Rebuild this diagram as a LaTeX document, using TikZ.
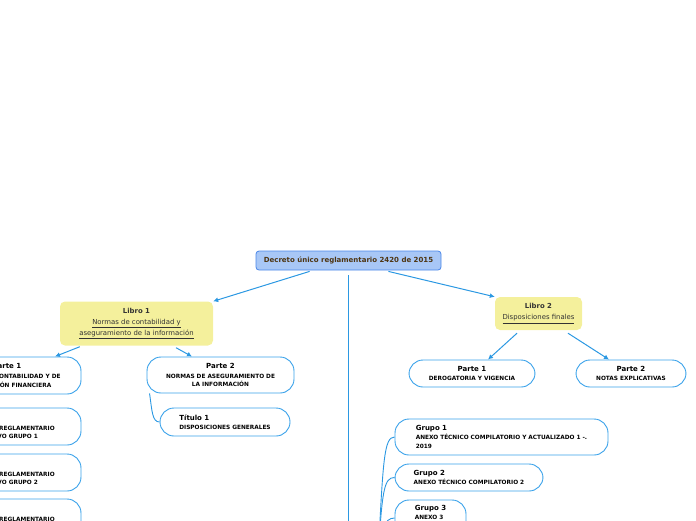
\documentclass[tikz,border=0pt]{standalone}
\usepackage{fontspec}
\setmainfont{DejaVu Sans}
\usetikzlibrary{arrows.meta}

\definecolor{linkblue}{HTML}{2B98E2}
\definecolor{pillblue}{HTML}{3AA2EA}
\definecolor{rootfill}{HTML}{A8C7F6}
\definecolor{rootedge}{HTML}{4A86E8}
\definecolor{rootbrown}{HTML}{4E3512}
\definecolor{libfill}{HTML}{F4F09C}
\definecolor{libtext}{HTML}{333333}

\newcommand\hd[1]{{\fontsize{7}{9}\selectfont #1}}

\tikzset{
  pill/.style={draw=pillblue, line width=0.9pt, fill=white, rounded corners=14pt,
    inner sep=0pt, align=center, text=black,
    font=\fontsize{5.8}{8.6}\selectfont\bfseries},
  libro/.style={fill=libfill, rounded corners=5pt, inner sep=0pt, align=center,
    text=libtext, font=\fontsize{6.9}{11}\selectfont},
  link/.style={draw=linkblue, line width=1pt, -{Latex[length=5pt,width=5pt]}},
  branch/.style={draw=linkblue, line width=0.9pt}
}

\begin{document}
\begin{tikzpicture}[x=1pt,y=-1pt]
  \useasboundingbox (0,0) rectangle (696,520);
  \clip (0,0) rectangle (696,520);

  % centre
  \node[draw=rootedge, line width=0.8pt, fill=rootfill, rounded corners=3pt,
    minimum width=185pt, minimum height=19pt, inner sep=0pt, text=rootbrown,
    font=\fontsize{7}{8}\selectfont\bfseries] (dec) at (348.5,260.5)
    {Decreto único reglamentario 2420 de 2015};

  % libros
  \node[libro, minimum width=153pt, minimum height=44pt] (lib1) at (136.5,323.5)
    {\textbf{Libro 1}\\\underline{Normas de contabilidad y}\\\underline{aseguramiento de la información}};
  \node[libro, minimum width=87pt, minimum height=33pt] (lib2) at (538.5,313.5)
    {\textbf{Libro 2}\\\underline{Disposiciones finales}};

  % libro 1
  \node[pill, minimum width=148pt, minimum height=37pt] (p1) at (7,375.5)
    {\hd{Parte 1}\\[1.2pt]NORMAS DE CONTABILIDAD Y DE\\INFORMACIÓN FINANCIERA};
  \node[pill, minimum width=147pt, minimum height=36pt] (p2) at (220.5,375)
    {\hd{Parte 2}\\[1.2pt]NORMAS DE ASEGURAMIENTO DE\\LA INFORMACIÓN};
  \node[pill, align=left, minimum width=130pt, minimum height=28pt] (tit) at (225,422)
    {\hd{Título 1}\\DISPOSICIONES GENERALES};
  \node[pill, align=left, minimum width=140pt, minimum height=37pt] (r1) at (11,426.5)
    {\hd{\strut}\\[1.2pt]RÉGIMEN REGLAMENTARIO\\NORMATIVO GRUPO 1};
  \node[pill, align=left, minimum width=140pt, minimum height=37pt] (r2) at (11,472.5)
    {\hd{\strut}\\[1.2pt]RÉGIMEN REGLAMENTARIO\\NORMATIVO GRUPO 2};
  \node[pill, align=left, minimum width=140pt, minimum height=37pt] (r3) at (11,517.5)
    {\hd{\strut}\\[1.2pt]RÉGIMEN REGLAMENTARIO\\NORMATIVO GRUPO 3};

  % libro 2
  \node[pill, minimum width=126pt, minimum height=27pt] (q1) at (472,373.5)
    {\hd{Parte 1}\\DEROGATORIA Y VIGENCIA};
  \node[pill, minimum width=110pt, minimum height=27pt] (q2) at (631,373.5)
    {\hd{Parte 2}\\NOTAS EXPLICATIVAS};

  % grupos
  \node[pill, align=left, minimum width=213pt, minimum height=36pt] (g1) at (501.5,437)
    {\hd{Grupo 1}\\ANEXO TÉCNICO COMPILATORIO Y ACTUALIZADO 1 -.\\2019};
  \node[pill, align=left, minimum width=148pt, minimum height=27pt] (g2) at (469,477.5)
    {\hd{Grupo 2}\\ANEXO TÉCNICO COMPILATORIO 2};
  \node[pill, align=left, minimum width=71pt, minimum height=36pt] (g3) at (430.5,518)
    {\hd{Grupo 3}\\ANEXO 3\\\strut};

  \coordinate (anx) at (348.5,580);
  \coordinate (src) at (378,560);

  % connectors
  \draw[link] ([xshift=54pt,yshift=-1pt]dec.south west) -- (lib1.north east);
  \draw[link] ([xshift=-53pt,yshift=-1pt]dec.south east) -- (lib2.north west);
  \draw[branch] ([yshift=-5pt]dec.south) -- (anx);

  \draw[link] ([xshift=20pt,yshift=-1pt]lib1.south west) -- ([xshift=48pt]p1.north);
  \draw[link] ([xshift=39.5pt,yshift=-2pt]lib1.south) -- ([xshift=-28.5pt]p2.north);
  \draw[link] ([xshift=-21.5pt,yshift=-3pt]lib2.south) -- ([xshift=16pt]q1.north);
  \draw[link] ([xshift=29.5pt,yshift=-3pt]lib2.south) -- ([xshift=-22pt]q2.north);

  \draw[branch] ([xshift=3pt]p2.south west) .. controls (152,410) and (152,422) .. (tit.west);
  \draw[branch] (src) .. controls (383,460) and (384,437) .. (g1.west);
  \draw[branch] (src) .. controls (382,490) and (384,477.5) .. (g2.west);
  \draw[branch] (src) .. controls (381,530) and (384,518) .. (g3.west);
\end{tikzpicture}
\end{document}
